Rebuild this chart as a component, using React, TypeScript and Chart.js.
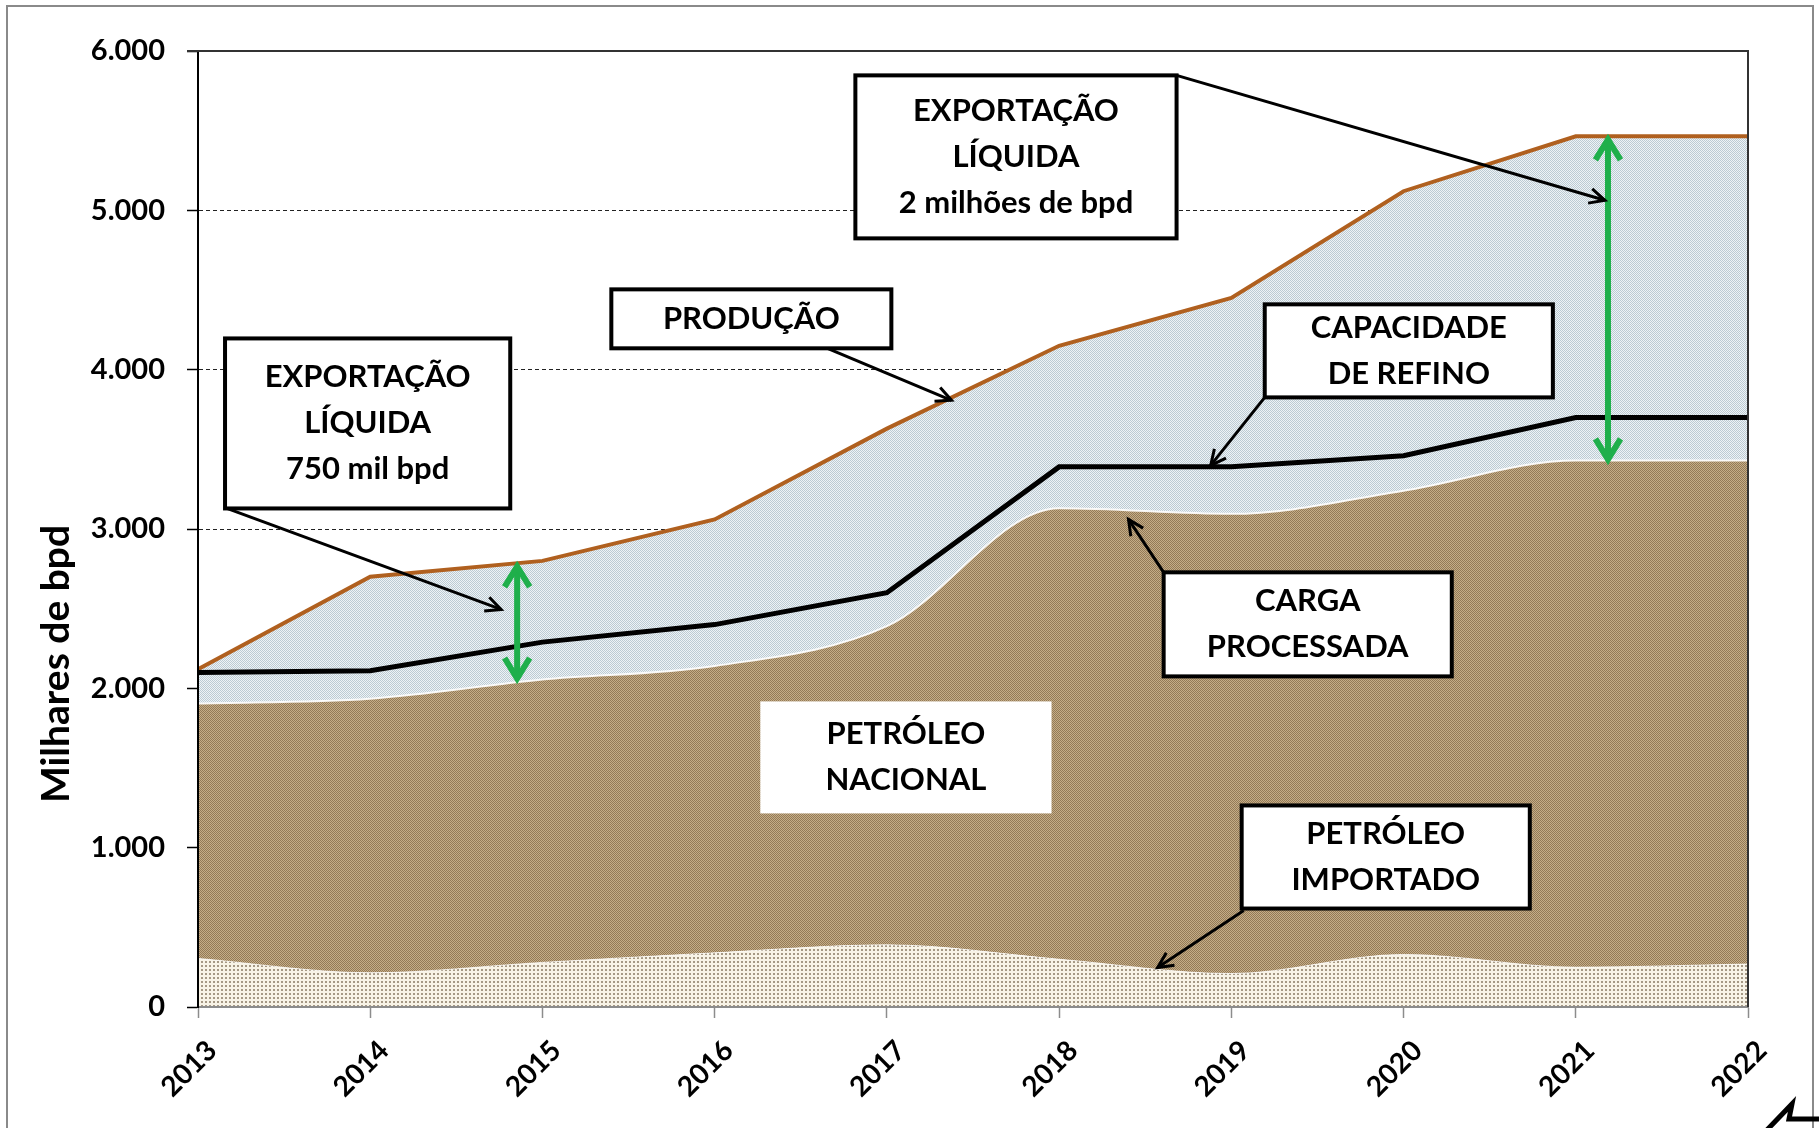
import React, { useEffect, useRef } from "react";
import { Chart, registerables } from "chart.js";

Chart.register(...registerables);

// ---------- data ----------
const X_LABELS = ["2013", "2014", "2015", "2016", "2017", "2018", "2019", "2020", "2021", "2022"];
const IMPORTADO = [305, 215, 280, 340, 390, 300, 210, 330, 250, 270];
const CARGA_PROCESSADA = [1905, 1935, 2055, 2140, 2390, 3130, 3095, 3240, 3430, 3430];
const CAPACIDADE_REFINO = [2100, 2110, 2290, 2400, 2600, 3390, 3390, 3460, 3700, 3700];
const PRODUCAO = [2120, 2700, 2800, 3060, 3630, 4150, 4450, 5120, 5465, 5465];
const Y_MIN = 0;
const Y_MAX = 6000;
const Y_STEP = 1000;
const Y_TITLE = "Milhares de bpd";

// annotation boxes in data units (x = category index, y = value)
const BOXES = [
  { lines: ["EXPORTAÇÃO", "LÍQUIDA", "2 milhões de bpd"], x: [3.817, 5.682], y: [5847, 4824], border: true },
  { lines: ["PRODUÇÃO"], x: [2.4, 4.026], y: [4504, 4134], border: true },
  { lines: ["CAPACIDADE", "DE REFINO"], x: [6.194, 7.867], y: [4410, 3826], border: true },
  { lines: ["EXPORTAÇÃO", "LÍQUIDA", "750 mil bpd"], x: [0.157, 1.813], y: [4196, 3129], border: true },
  { lines: ["CARGA", "PROCESSADA"], x: [5.607, 7.28], y: [2728, 2075], border: true },
  { lines: ["PETRÓLEO", "NACIONAL"], x: [3.265, 4.956], y: [1918, 1215], border: false },
  { lines: ["PETRÓLEO", "IMPORTADO"], x: [6.06, 7.733], y: [1265, 618], border: true },
];
const POINTERS = [
  { from: [5.682, 5847], to: [8.169, 5063] },
  { from: [3.655, 4134], to: [4.375, 3808] },
  { from: [6.194, 3826], to: [5.88, 3399] },
  { from: [0.168, 3129], to: [1.76, 2495] },
  { from: [5.607, 2728], to: [5.403, 3060] },
  { from: [6.072, 606], to: [5.572, 248] },
];
const SPANS = [
  { x: 1.853, top: 2784, bottom: 2043 },
  { x: 8.187, top: 5464, bottom: 3418 },
];

const FONT = "Lato, 'Open Sans', sans-serif";

function makePattern(size: number, bg: string, dot: string, dots: number[][]): CanvasPattern | string {
  const c = document.createElement("canvas");
  c.width = size;
  c.height = size;
  const g = c.getContext("2d");
  if (!g) return bg;
  g.fillStyle = bg;
  g.fillRect(0, 0, size, size);
  g.fillStyle = dot;
  dots.forEach(([x, y]) => g.fillRect(x, y, 1, 1));
  const p = g.createPattern(c, "repeat");
  return p || bg;
}

function fmtThousands(v: number): string {
  return String(v).replace(/\B(?=(\d{3})+(?!\d))/g, ".");
}

const overlayPlugin = {
  id: "overlay",
  afterDraw(chart: any) {
    const { ctx, chartArea: a, scales } = chart;
    const xs = scales.x;
    const ys = scales.y;
    const px = (v: number) => xs.getPixelForValue(v);
    const py = (v: number) => ys.getPixelForValue(v);
    ctx.save();

    // plot-area top and right border
    ctx.strokeStyle = "#333";
    ctx.lineWidth = 2;
    ctx.beginPath();
    ctx.moveTo(a.left - 11, a.top);
    ctx.lineTo(a.right, a.top);
    ctx.lineTo(a.right, a.bottom);
    ctx.stroke();

    const head = (x: number, y: number, ang: number, len: number, spread: number) => {
      ctx.beginPath();
      ctx.moveTo(x - len * Math.cos(ang - spread), y - len * Math.sin(ang - spread));
      ctx.lineTo(x, y);
      ctx.lineTo(x - len * Math.cos(ang + spread), y - len * Math.sin(ang + spread));
      ctx.stroke();
    };

    // green double arrows
    ctx.strokeStyle = "#1FAF4B";
    ctx.lineWidth = 6;
    ctx.lineJoin = "miter";
    ctx.lineCap = "butt";
    SPANS.forEach((s) => {
      const x = px(s.x);
      const y1 = py(s.top);
      const y2 = py(s.bottom);
      ctx.beginPath();
      ctx.moveTo(x, y1 + 3);
      ctx.lineTo(x, y2 - 3);
      ctx.stroke();
      head(x, y1 + 3, -Math.PI / 2, 24, 0.55);
      head(x, y2 - 3, Math.PI / 2, 24, 0.55);
    });

    // black pointer arrows
    ctx.strokeStyle = "#000";
    ctx.lineWidth = 3;
    POINTERS.forEach((p) => {
      const x1 = px(p.from[0]);
      const y1 = py(p.from[1]);
      const x2 = px(p.to[0]);
      const y2 = py(p.to[1]);
      ctx.beginPath();
      ctx.moveTo(x1, y1);
      ctx.lineTo(x2, y2);
      ctx.stroke();
      const ang = Math.atan2(y2 - y1, x2 - x1);
      head(x2, y2, ang, 17, 0.45);
    });

    // boxes
    BOXES.forEach((b) => {
      const l = px(b.x[0]);
      const r = px(b.x[1]);
      const t = py(b.y[0]);
      const bt = py(b.y[1]);
      ctx.fillStyle = "#fff";
      ctx.fillRect(l, t, r - l, bt - t);
      if (b.border) {
        ctx.strokeStyle = "#000";
        ctx.lineWidth = 4;
        ctx.strokeRect(l, t, r - l, bt - t);
      }
      ctx.fillStyle = "#000";
      ctx.font = `bold 31px ${FONT}`;
      ctx.textAlign = "center";
      ctx.textBaseline = "middle";
      const cx = (l + r) / 2;
      const cy = (t + bt) / 2;
      const lh = 46;
      const n = b.lines.length;
      b.lines.forEach((txt, i) => {
        ctx.fillText(txt, cx, cy + (i - (n - 1) / 2) * lh);
      });
    });

    // y-axis title
    ctx.save();
    ctx.translate(56, 664);
    ctx.rotate(-Math.PI / 2);
    ctx.fillStyle = "#000";
    ctx.font = `bold 39px ${FONT}`;
    ctx.textAlign = "center";
    ctx.textBaseline = "middle";
    ctx.fillText(Y_TITLE, 0, 0);
    ctx.restore();

    // outer frame
    ctx.strokeStyle = "#8a8a8a";
    ctx.lineWidth = 2;
    ctx.strokeRect(7, 6, 1806, 1140);

    // corner mark
    ctx.strokeStyle = "#000";
    ctx.lineWidth = 5;
    ctx.lineJoin = "miter";
    ctx.beginPath();
    ctx.moveTo(1765, 1132);
    ctx.lineTo(1792, 1104);
    ctx.lineTo(1789, 1119);
    ctx.lineTo(1822, 1119);
    ctx.stroke();

    ctx.restore();
  },
};

export default function App() {
  const ref = useRef<HTMLCanvasElement | null>(null);

  useEffect(() => {
    const canvas = ref.current;
    if (!canvas) return;

    const patImport = makePattern(4, "rgb(248,243,230)", "rgb(165,152,132)", [[1, 1], [2, 1], [1, 2], [2, 2]]);
    const patNacional = makePattern(2, "rgb(197,173,135)", "rgb(147,122,87)", [[0, 0], [1, 1]]);
    const patExport = makePattern(2, "rgb(238,243,246)", "rgb(188,203,211)", [[0, 0], [1, 1]]);

    const chart = new Chart(canvas, {
      type: "line",
      data: {
        labels: X_LABELS,
        datasets: [
          {
            label: "Petróleo importado",
            data: IMPORTADO,
            fill: "origin",
            backgroundColor: patImport as any,
            borderColor: "rgba(255,255,255,0.7)",
            borderWidth: 1,
            pointRadius: 0,
            cubicInterpolationMode: "monotone",
          },
          {
            label: "Carga processada",
            data: CARGA_PROCESSADA,
            fill: "-1",
            backgroundColor: patNacional as any,
            borderColor: "rgba(255,255,255,0.9)",
            borderWidth: 2,
            pointRadius: 0,
            cubicInterpolationMode: "monotone",
          },
          {
            label: "Produção",
            data: PRODUCAO,
            fill: 1,
            backgroundColor: patExport as any,
            borderColor: "#B0601F",
            borderWidth: 4,
            pointRadius: 0,
            tension: 0,
          },
          {
            label: "Capacidade de refino",
            data: CAPACIDADE_REFINO,
            fill: false,
            borderColor: "#000",
            borderWidth: 5,
            pointRadius: 0,
            tension: 0,
            order: -1,
          },
        ],
      },
      options: {
        responsive: false,
        animation: false,
        devicePixelRatio: 1,
        layout: { padding: { top: 51, right: 71, left: 0, bottom: 0 } },
        plugins: {
          legend: { display: false },
          tooltip: { enabled: false },
          title: { display: false },
        },
        scales: {
          x: {
            type: "category",
            offset: false,
            grid: {
              drawOnChartArea: false,
              drawTicks: true,
              tickLength: 11,
              color: "#8c8c8c",
              tickColor: "#8c8c8c",
              tickWidth: 1.5,
            },
            border: { display: true, color: "#8c8c8c", width: 2, z: 1 },
            ticks: {
              autoSkip: false,
              maxRotation: 45,
              minRotation: 45,
              padding: 16,
              labelOffset: 14,
              color: "#000",
              font: { family: FONT, weight: "bold", size: 28 },
            },
            afterFit(s: any) {
              s.height = 121;
            },
          },
          y: {
            min: Y_MIN,
            max: Y_MAX,
            ticks: {
              stepSize: Y_STEP,
              padding: 22,
              color: "#000",
              font: { family: FONT, weight: "bold", size: 29 },
              callback: (v: any) => fmtThousands(Number(v)),
            },
            grid: {
              color: "#222",
              lineWidth: 1,
              drawTicks: true,
              tickLength: 11,
              tickColor: "#000",
              tickWidth: 1.5,
            },
            border: { display: true, color: "#000", width: 2, dash: [4, 3], z: 1 },
            afterFit(s: any) {
              s.width = 198;
            },
          },
        },
      } as any,
      plugins: [overlayPlugin],
    });

    return () => chart.destroy();
  }, []);

  return (
    <div style={{ position: "fixed", left: 0, top: 0, width: 1819, height: 1128, background: "#fff" }}>
      <canvas ref={ref} width={1819} height={1128} style={{ display: "block", width: 1819, height: 1128 }} />
    </div>
  );
}
